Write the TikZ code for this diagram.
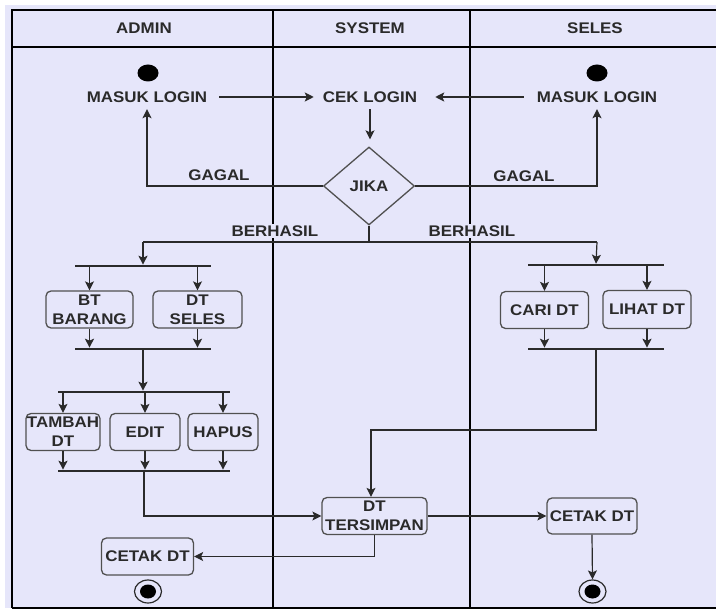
\documentclass[tikz,border=0pt]{standalone}
\usepackage{fontspec}
\setmainfont{Liberation Sans}[FakeStretch=1.1]
\usetikzlibrary{shapes.geometric,arrows.meta}
\definecolor{lav}{HTML}{E6E6FA}
\definecolor{ink}{HTML}{2A2A2A}
\definecolor{edge}{HTML}{505050}
\begin{document}
\begin{tikzpicture}[x=1pt,y=-1pt,
  lbl/.style={font=\fontsize{15.4}{19}\selectfont\bfseries, text=ink, inner sep=0pt, align=center},
  box/.style={lbl, draw=edge, line width=1.3pt, rounded corners=5pt, fill=lav},
  conn/.style={draw=ink, line width=1.2pt},
  arr/.style={conn, -{Stealth[length=9pt,width=9pt,inset=2pt]}},
  bar/.style={fill=ink, inner sep=0pt, minimum height=2.2pt},
  lane/.style={line width=1.8pt, draw=black}]
\useasboundingbox (0,0) rectangle (716,610);
\fill[white] (0,0) rectangle (716,610);
\fill[lav] (5,5) rectangle (716,608);
% swimlanes
\draw[lane] (12,608) -- (12,10) -- (716,10);
\draw[lane] (12,608) -- (716,608);
\draw[lane] (12,47) -- (716,47);
\draw[lane] (273,10) -- (273,608);
\draw[lane] (470,10) -- (470,608);
\node[lbl] (hA) at (144,28) {ADMIN};
\node[lbl] (hS) at (370,28) {SYSTEM};
\node[lbl] (hL) at (595,28) {SELES};
% start
\node[ellipse, fill=black, minimum width=21pt, minimum height=17pt, inner sep=0pt] (sA) at (148,73) {};
\node[ellipse, fill=black, minimum width=21pt, minimum height=17pt, inner sep=0pt] (sS) at (597,73) {};
% login
\node[lbl, minimum height=24pt, inner xsep=12pt] (mlA) at (147,97) {MASUK LOGIN};
\node[lbl, minimum height=24pt, inner xsep=9pt] (cek) at (370,97) {CEK LOGIN};
\node[lbl, minimum height=24pt, inner xsep=13pt] (mlS) at (597,97) {MASUK LOGIN};
\draw[arr] (mlA.east) -- (cek.west);
\draw[arr, shorten >=9pt] (mlS.west) -- (cek.east);
\node[lbl, diamond, draw=edge, line width=1.3pt, fill=lav, minimum width=91pt, minimum height=78pt] (jika) at (369,186) {JIKA};
\draw[arr, shorten >=7pt] (cek.south) -- (cek.south |- jika.north);
\draw[arr] (jika.west) -| (mlA.south);
\draw[arr] (jika.east) -| (mlS.south);
\node[lbl] (gL) at (219,175) {GAGAL};
\node[lbl] (gR) at (524,176) {GAGAL};
% berhasil
\coordinate (bm) at (369,242);
\coordinate (bL) at (143,242);
\coordinate (bR) at (597,242);
\draw[conn] (jika.south) -- (bm);
\draw[conn] (bL) -- (bR);
\node[lbl, fill=lav, inner sep=1.5pt] (bhL) at (275,231) {BERHASIL};
\node[lbl, fill=lav, inner sep=1.5pt] (bhR) at (472,231) {BERHASIL};
% bars
\node[bar, minimum width=136pt] (f1) at (143,266) {};
\node[bar, minimum width=136pt] (j1) at (143,349) {};
\node[bar, minimum width=172pt] (f2) at (144,392) {};
\node[bar, minimum width=172pt] (j2) at (144,471) {};
\node[bar, minimum width=136pt] (f3) at (596,265) {};
\node[bar, minimum width=136pt] (j3) at (596,349) {};
% boxes
\node[box, minimum width=87pt, minimum height=37pt] (btb) at (89.5,309.5) {BT\\BARANG};
\node[box, minimum width=89pt, minimum height=37pt] (dts) at (197.5,309.5) {DT\\SELES};
\node[box, minimum width=74pt, minimum height=37pt] (tam) at (63,432) {TAMBAH\\DT};
\node[box, minimum width=70pt, minimum height=37pt] (edt) at (145,432) {EDIT};
\node[box, minimum width=70pt, minimum height=37pt] (hap) at (223,432) {HAPUS};
\node[box, minimum width=88pt, minimum height=37pt] (cari) at (544.5,310) {CARI DT};
\node[box, minimum width=88pt, minimum height=38pt] (lih) at (647,309.5) {LIHAT DT};
\node[box, minimum width=105pt, minimum height=37pt] (dt) at (374.5,516) {DT\\TERSIMPAN};
\node[box, minimum width=90pt, minimum height=36pt] (cetS) at (592,516) {CETAK DT};
\node[box, minimum width=92pt, minimum height=37pt] (cetA) at (147.5,556.5) {CETAK DT};
% end
\node[ellipse, draw=ink, line width=1.2pt, minimum width=27pt, minimum height=23pt, inner sep=0pt] (eA) at (148,591.5) {};
\node[ellipse, fill=black, minimum width=16pt, minimum height=14pt, inner sep=0pt] (eAi) at (eA) {};
\node[ellipse, draw=ink, line width=1.2pt, minimum width=27pt, minimum height=23pt, inner sep=0pt] (eS) at (592.5,591.5) {};
\node[ellipse, fill=black, minimum width=16pt, minimum height=14pt, inner sep=0pt] (eSi) at (eS) {};
% admin flow
\draw[arr] (bL) -- (f1.north);
\draw[arr] (f1.south -| btb.north) -- (btb.north);
\draw[arr] (f1.south -| dts.north) -- (dts.north);
\draw[arr] (btb.south) -- (btb.south |- j1.north);
\draw[arr] (dts.south) -- (dts.south |- j1.north);
\draw[arr] (j1.south) -- (j1.south |- f2.north);
\draw[arr] (f2.south -| tam.north) -- (tam.north);
\draw[arr] (f2.south -| edt.north) -- (edt.north);
\draw[arr] (f2.south -| hap.north) -- (hap.north);
\draw[arr] (tam.south) -- (tam.south |- j2.north);
\draw[arr] (edt.south) -- (edt.south |- j2.north);
\draw[arr] (hap.south) -- (hap.south |- j2.north);
\draw[arr] (j2.south) |- (dt.west);
% seles flow
\draw[arr] (bR) -- (f3.north);
\draw[arr] (f3.south -| cari.north) -- (cari.north);
\draw[arr] (f3.south -| lih.north) -- (lih.north);
\draw[arr] (cari.south) -- (cari.south |- j3.north);
\draw[arr] (lih.south) -- (lih.south |- j3.north);
\coordinate (kR) at (371,430);
\draw[arr] (j3.south) |- (kR) -- (kR |- dt.north);
% outputs
\draw[arr] (dt.east) -- (cetS.west);
\draw[arr] (cetS.south) -- (eS.north);
\draw[arr] (dt.south) |- (cetA.east);
\end{tikzpicture}
\end{document}
